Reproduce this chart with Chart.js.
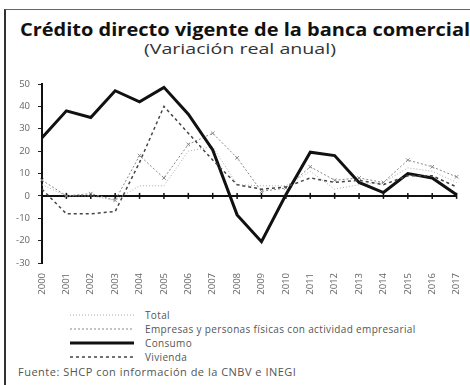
<!DOCTYPE html>
<html>
<head>
<meta charset="utf-8">
<script src="https://cdn.jsdelivr.net/npm/chart.js@4/dist/chart.umd.min.js"></script>
<style>
  html, body { margin: 0; padding: 0; background: #fff; }
  #frame {
    position: relative; width: 470px; height: 385px; overflow: hidden;
    box-sizing: border-box;
  }
  #frame::before {
    content: ''; position: absolute; left: 4px; top: 9px; right: -5px; bottom: -5px;
    border-left: 2px solid #333; border-top: 1px solid #666;
  }
  #title {
    position: absolute; left: 20px; top: 17px; white-space: nowrap;
    font: bold 18px "Open Sans", sans-serif; color: #111;
    transform: scaleX(1.11); transform-origin: left top;
  }
  #subtitle {
    position: absolute; left: 144px; top: 39px; white-space: nowrap;
    font: 14px "Open Sans", sans-serif; color: #333;
    transform: scaleX(1.4); transform-origin: left top;
  }
  #wrap { position: absolute; left: 0; top: 70px; width: 470px; height: 235px; }
  #legend {
    position: absolute; left: 70px; top: 308px; font: 10px "Open Sans", sans-serif;
    letter-spacing: 0.35px; color: #555;
  }
  .row { height: 14px; display: flex; align-items: center; }
  .row svg { width: 64px; height: 8px; margin-right: 11px; }
  #source {
    position: absolute; left: 18px; top: 364px; font: 11px "Open Sans", sans-serif;
    letter-spacing: 0.5px; color: #555; white-space: nowrap;
  }
</style>
</head>
<body>
<div id="frame">
  <div id="title">Crédito directo vigente de la banca comercial</div>
  <div id="subtitle">(Variación real anual)</div>
  <div id="wrap"><canvas id="creditChart"></canvas></div>
  <div id="legend"></div>
  <div id="source">Fuente: SHCP con información de la CNBV e INEGI</div>
</div>
<script>
// years on the category axis
const years = ['2000','2001','2002','2003','2004','2005','2006','2007','2008',
               '2009','2010','2011','2012','2013','2014','2015','2016','2017'];

// real annual change, %
const total    = [5, 0, 0, -2, 4.5, 4.5, 20, 22, 5, 4.5, 4.5, 11, 3, 5, 6, 12.5, 11, 6];
const empresas = [7, 0, 1, -2, 18, 8, 23, 28, 17, 2, 3.5, 13, 7, 8, 6, 16, 13, 8.5];
const consumo  = [26, 38, 35, 47, 42, 48.5, 36.5, 20.5, -8.5, -20.5, 0.5, 19.5, 18, 6, 1.5, 10, 8, 0.5];
const vivienda = [3, -8, -8, -7, 15, 40, 28, 16, 5, 3, 4, 8, 6, 7, 5, 9, 9, 4];

const yTicks = [50, 40, 30, 20, 10, 0, -10, -20, -30];

const series = [
  { label: 'Total', data: total, color: '#aaa', width: 1, dash: [1, 2] },
  { label: 'Empresas y personas físicas con actividad empresarial', data: empresas, color: '#888', width: 1, dash: [2, 2], point: 'crossRot' },
  { label: 'Consumo', data: consumo, color: '#111', width: 3, dash: [] },
  { label: 'Vivienda', data: vivienda, color: '#444', width: 1.5, dash: [3, 3] }
];

// zero line with small tick marks at each year
const zeroLine = {
  id: 'zeroLine',
  beforeDatasetsDraw(chart) {
    const { ctx, scales: { x, y } } = chart;
    const y0 = y.getPixelForValue(0);
    ctx.save();
    ctx.strokeStyle = '#111';
    ctx.lineWidth = 2;
    ctx.beginPath();
    ctx.moveTo(x.left, y0);
    ctx.lineTo(x.right, y0);
    ctx.stroke();
    ctx.lineWidth = 1.5;
    years.forEach((yr, i) => {
      const px = x.getPixelForValue(i);
      ctx.beginPath();
      ctx.moveTo(px, y0 - 3);
      ctx.lineTo(px, y0 + 3);
      ctx.stroke();
    });
    ctx.restore();
  }
};

const ctx = document.getElementById('creditChart').getContext('2d');
new Chart(ctx, {
  type: 'line',
  data: {
    labels: years,
    datasets: series.map(s => ({
      label: s.label,
      data: s.data,
      borderColor: s.color,
      borderWidth: s.width,
      borderDash: s.dash,
      pointStyle: s.point || 'circle',
      pointRadius: s.point ? 2.5 : 0,
      pointBorderColor: s.color,
      pointBorderWidth: 1,
      tension: 0,
      fill: false
    })).reverse()
  },
  options: {
    responsive: true,
    maintainAspectRatio: false,
    animation: false,
    layout: { padding: { top: 14, right: 7, left: 0, bottom: 0 } },
    plugins: { legend: { display: false }, title: { display: false }, tooltip: { enabled: false } },
    scales: {
      x: {
        offset: false,
        grid: { display: false },
        border: { display: false },
        ticks: {
          minRotation: 90, maxRotation: 90, autoSkip: false, padding: 2,
          color: '#666', font: { family: 'Open Sans', size: 9.5 }
        },
        afterFit(scale) { scale.height = 42; }
      },
      y: {
        min: -30, max: 50,
        afterBuildTicks(scale) { scale.ticks = yTicks.map(v => ({ value: v })); },
        grid: { display: true, drawOnChartArea: false, tickLength: 4, color: '#222' },
        border: { display: true, color: '#111', width: 2 },
        ticks: { color: '#666', padding: 8, font: { family: 'Open Sans', size: 9.5 } },
        afterFit(scale) { scale.width = 42; }
      }
    }
  },
  plugins: [zeroLine]
});

// legend with line samples
const legend = document.getElementById('legend');
series.forEach(s => {
  const row = document.createElement('div');
  row.className = 'row';
  row.innerHTML = `<svg viewBox="0 0 64 8"><line x1="0" y1="4" x2="64" y2="4" stroke="${s.color}"
    stroke-width="${s.width}" stroke-dasharray="${s.dash.join(' ')}"/></svg><span>${s.label}</span>`;
  legend.appendChild(row);
});
</script>
</body>
</html>
